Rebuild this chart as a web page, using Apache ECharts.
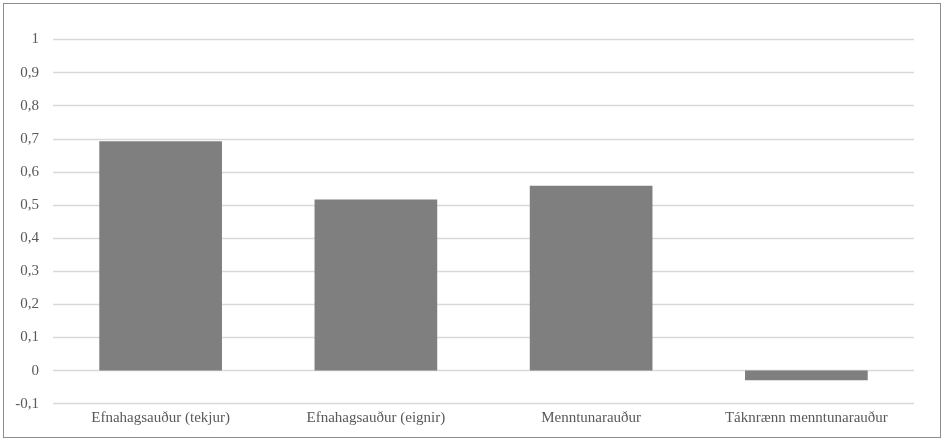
<!DOCTYPE html>
<html>
<head>
<meta charset="utf-8">
<script src="https://cdn.jsdelivr.net/npm/echarts@6/dist/echarts.min.js"></script>
<style>
html,body{margin:0;padding:0;background:#fff;}
#frame{position:absolute;left:3px;top:3px;width:938px;height:435px;border:1px solid #8c8c8c;box-sizing:border-box;}
#chart{position:absolute;left:0;top:0;width:946px;height:442px;}
</style>
</head>
<body>
<div id="frame"></div>
<div id="chart"></div>
<script>
const categories = ["Efnahagsauður (tekjur)", "Efnahagsauður (eignir)", "Menntunarauður", "Táknrænn menntunarauður"];
const values = [0.693, 0.517, 0.558, -0.029];

const chart = echarts.init(document.getElementById('chart'), null, {renderer: 'canvas'});
chart.setOption({
  animation: false,
  grid: {left: 53, right: 32, top: 39.5, bottom: 38.3, containLabel: false},
  xAxis: {
    type: 'category',
    data: categories,
    axisLine: {show: false},
    axisTick: {show: false},
    axisLabel: {
      color: '#595959', fontFamily: '"Liberation Serif", "Times New Roman", serif', fontSize: 15,
      margin: 7, interval: 0
    },
    position: 'bottom'
  },
  yAxis: {
    type: 'value',
    min: -0.1, max: 1, interval: 0.1,
    axisLine: {show: false},
    axisTick: {show: false},
    splitLine: {lineStyle: {color: '#d9d9d9', width: 1.3}},
    axisLabel: {
      color: '#595959', fontFamily: '"Liberation Serif", "Times New Roman", serif', fontSize: 15,
      margin: 14,
      formatter: v => {
        const r = Math.round(v * 10) / 10;
        return String(r).replace('.', ',');
      }
    }
  },
  series: [{
    type: 'bar',
    data: values,
    barWidth: '57%',
    itemStyle: {color: '#7f7f7f'}
  }]
});
</script>
</body>
</html>
